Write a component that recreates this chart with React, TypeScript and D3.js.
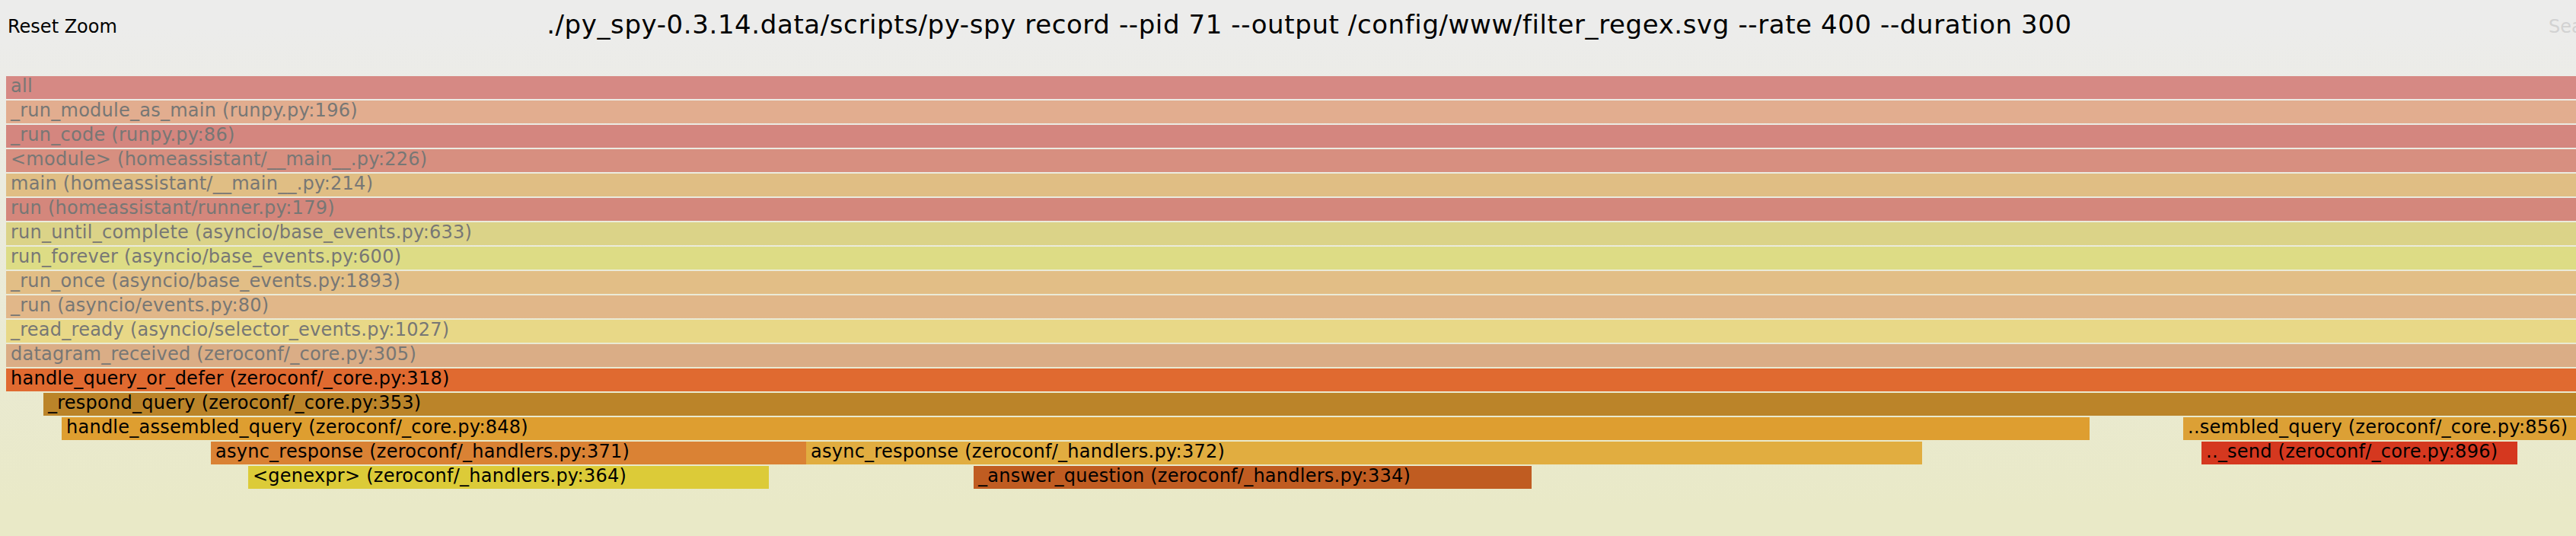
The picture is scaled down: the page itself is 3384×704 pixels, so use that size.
import { useEffect, useRef } from "react";
import * as d3 from "d3";

// frames of the zoomed flame graph (icicle, root on top). start / samples are in sample units
const frameNames = [
  "all",
  "_run_module_as_main (runpy.py:196)",
  "_run_code (runpy.py:86)",
  "<module> (homeassistant/__main__.py:226)",
  "main (homeassistant/__main__.py:214)",
  "run (homeassistant/runner.py:179)",
  "run_until_complete (asyncio/base_events.py:633)",
  "run_forever (asyncio/base_events.py:600)",
  "_run_once (asyncio/base_events.py:1893)",
  "_run (asyncio/events.py:80)",
  "_read_ready (asyncio/selector_events.py:1027)",
  "datagram_received (zeroconf/_core.py:305)",
  "handle_query_or_defer (zeroconf/_core.py:318)",
  "_respond_query (zeroconf/_core.py:353)",
  "handle_assembled_query (zeroconf/_core.py:848)",
  "..sembled_query (zeroconf/_core.py:856)",
  "async_response (zeroconf/_handlers.py:371)",
  "async_response (zeroconf/_handlers.py:372)",
  ".._send (zeroconf/_core.py:896)",
  "<genexpr> (zeroconf/_handlers.py:364)",
  "_answer_question (zeroconf/_handlers.py:334)",
];
const frameDepths = [0, 1, 2, 3, 4, 5, 6, 7, 8, 9, 10, 11, 12, 13, 14, 14, 15, 15, 15, 16, 16];
const frameStarts = [0, 0, 0, 0, 0, 0, 0, 0, 0, 0, 0, 0, 0, 49, 73, 2860, 269, 1051, 2884, 318, 1271];
const frameSamples = [
  3376, 3376, 3376, 3376, 3376, 3376, 3376, 3376, 3376, 3376, 3376, 3376, 3376,
  3327, 2664, 516, 782, 1466, 415, 684, 733,
];
const frameColors = [
  "#d68984", "#e2ad8f", "#d4867f", "#d78f80", "#e0be84", "#d4877c",
  "#dbd388", "#dddc85", "#e2be86", "#e1b789", "#e8d887", "#daad86",
  "#e06a30", "#bb8429", "#de9e30", "#dca035", "#da8234", "#e1ad40",
  "#d5381f", "#dccb38", "#c05c21",
];
const zoomedDepth = 12; // frames above this are the faded parents
const totalSamples = 3376;
const title =
  "./py_spy-0.3.14.data/scripts/py-spy record --pid 71 --output /config/www/filter_regex.svg --rate 400 --duration 300";

interface Frame {
  name: string;
  depth: number;
  start: number;
  samples: number;
  color: string;
}

export default function App() {
  const svgRef = useRef<SVGSVGElement | null>(null);
  const width = 3384;
  const height = 704;
  const frameH = 32;
  const top = 100;

  useEffect(() => {
    if (!svgRef.current) return;
    const svg = d3.select(svgRef.current);
    svg.selectAll("*").remove();

    const frames: Frame[] = frameNames.map((n, i) => ({
      name: n,
      depth: frameDepths[i],
      start: frameStarts[i],
      samples: frameSamples[i],
      color: frameColors[i],
    }));

    const x = d3.scaleLinear().domain([0, totalSamples]).range([8, width]);
    const y = d3.scaleLinear().domain([0, 1]).range([top, top + frameH]);

    // background gradient
    const grad = svg
      .append("defs")
      .append("linearGradient")
      .attr("id", "bg")
      .attr("x1", "0")
      .attr("y1", "0")
      .attr("x2", "0")
      .attr("y2", "1");
    grad.append("stop").attr("offset", "5%").attr("stop-color", "#ececeb");
    grad.append("stop").attr("offset", "95%").attr("stop-color", "#e9e9c7");
    svg.append("rect").attr("width", width).attr("height", height).attr("fill", "url(#bg)");

    const font = "Verdana, 'DejaVu Sans', sans-serif";

    svg
      .append("text")
      .attr("x", 1720)
      .attr("y", 44)
      .attr("text-anchor", "middle")
      .style("font-family", font)
      .style("font-size", "34px")
      .style("letter-spacing", "0.6px")
      .attr("fill", "#000")
      .text(title);

    svg
      .append("text")
      .attr("x", 10)
      .attr("y", 43)
      .style("font-family", font)
      .style("font-size", "24px")
      .attr("fill", "#000")
      .text("Reset Zoom");

    svg
      .append("text")
      .attr("x", 3348)
      .attr("y", 43)
      .style("font-family", font)
      .style("font-size", "24px")
      .attr("fill", "#d2d2d2")
      .text("Search");

    const g = svg
      .selectAll<SVGGElement, Frame>("g.frame")
      .data(frames)
      .enter()
      .append("g")
      .attr("class", "frame");

    g.append("rect")
      .attr("x", d => x(d.start))
      .attr("y", d => y(d.depth))
      .attr("width", d => x(d.start + d.samples) - x(d.start))
      .attr("height", frameH - 2)
      .attr("fill", d => d.color);

    g.append("text")
      .attr("x", d => x(d.start) + 6)
      .attr("y", d => y(d.depth) + 21)
      .style("font-family", font)
      .style("font-size", "24px")
      .style("letter-spacing", "0.25px")
      .attr("fill", d => (d.depth < zoomedDepth ? "#777775" : "#000"))
      .text(d => d.name);
  }, []);

  return (
    <svg
      ref={svgRef}
      width={width}
      height={height}
      style={{ position: "absolute", left: 0, top: 0, display: "block" }}
    />
  );
}
